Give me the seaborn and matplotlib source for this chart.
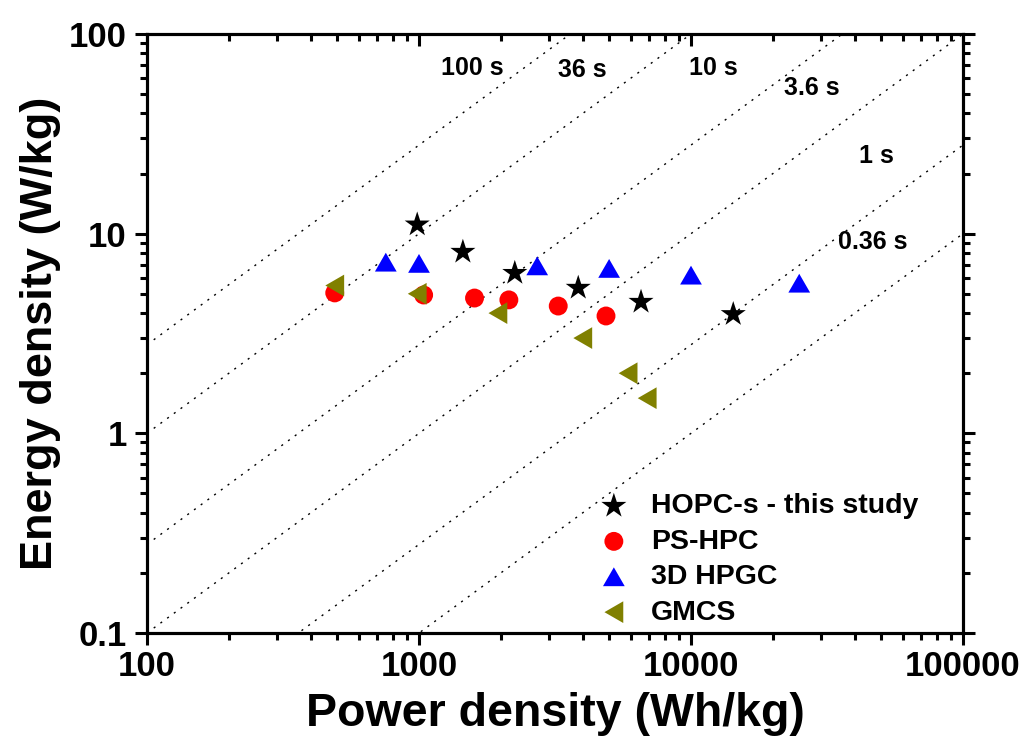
import numpy as np
import pandas as pd
import matplotlib
matplotlib.use("Agg")
import matplotlib.pyplot as plt
import seaborn as sns
from matplotlib.ticker import FixedLocator, FixedFormatter, LogLocator, NullFormatter

# ---- data ----
hopc_power = [985, 1450, 2250, 3850, 6550, 14300]
hopc_energy = [11.1, 8.1, 6.35, 5.35, 4.55, 3.95]

pshpc_power = [490, 1040, 1600, 2140, 3250, 4870]
pshpc_energy = [5.05, 4.93, 4.76, 4.66, 4.34, 3.87]

hpgc_power = [755, 1000, 2720, 5000, 10000, 25000]
hpgc_energy = [7.2, 7.1, 6.9, 6.7, 6.2, 5.65]

gmcs_power = [490, 985, 1950, 4000, 5870, 6900]
gmcs_energy = [5.5, 5.0, 4.0, 3.0, 2.0, 1.5]

series_names = ["HOPC-s - this study", "PS-HPC", "3D HPGC", "GMCS"]

# discharge-time guide lines (seconds) and their labels
times = [100, 36, 10, 3.6, 1, 0.36]
time_labels = ["100 s", "36 s", "10 s", "3.6 s", "1 s", "0.36 s"]
time_label_x = [1570, 3990, 12050, 27700, 48200, 46600]
time_label_y = [67.6, 66, 67.6, 53.7, 24.5, 9.09]

x_ticks = [100, 1000, 10000, 100000]
x_ticklabels = ["100", "1000", "10000", "100000"]
y_ticks = [0.1, 1, 10, 100]
y_ticklabels = ["0.1", "1", "10", "100"]

# ---- style ----
sns.set_style("ticks")
plt.rcParams['font.family'] = ['Liberation Sans', 'DejaVu Sans']
plt.rcParams['font.weight'] = 'bold'
plt.rcParams['axes.labelweight'] = 'bold'
for k in ['text.color', 'axes.labelcolor', 'xtick.color', 'ytick.color', 'axes.edgecolor']:
    plt.rcParams[k] = 'black'

W, H = 1031, 749
fig = plt.figure(figsize=(W / 100, H / 100), dpi=100)
L, R, T, B = 147, 963, 34, 633
ax = fig.add_axes([L / W, 1 - B / H, (R - L) / W, (B - T) / H])
ax.set_xscale('log')
ax.set_yscale('log')
ax.set_xlim(100, 1e5)
ax.set_ylim(0.1, 100)

# guide lines
for t in times:
    P = np.array([100.0, 1e5])
    ax.plot(P, P * t / 3600.0, color='black', lw=1.0, ls=(0, (1.5, 4.5)), zorder=1)
for lab, lx, ly in zip(time_labels, time_label_x, time_label_y):
    ax.text(lx, ly, lab, ha='center', va='center', fontsize=18, fontweight='bold',
            color='black', zorder=3)

tri_up = [(-1, -0.866), (1, -0.866), (0, 0.866)]
tri_left = [(0.866, -1), (0.866, 1), (-0.866, 0)]

df = pd.concat([
    pd.DataFrame({"P": hopc_power, "E": hopc_energy, "series": series_names[0]}),
    pd.DataFrame({"P": pshpc_power, "E": pshpc_energy, "series": series_names[1]}),
    pd.DataFrame({"P": hpgc_power, "E": hpgc_energy, "series": series_names[2]}),
    pd.DataFrame({"P": gmcs_power, "E": gmcs_energy, "series": series_names[3]}),
])

styles = {
    series_names[0]: dict(marker='*', color='black', s=360),
    series_names[1]: dict(marker='o', color='#ff0000', s=185),
    series_names[2]: dict(marker=tri_up, color='#0000ff', s=245),
    series_names[3]: dict(marker=tri_left, color='#808000', s=245),
}
for name in series_names:
    sub = df[df.series == name]
    st = styles[name]
    sns.scatterplot(data=sub, x="P", y="E", ax=ax, marker=st['marker'], color=st['color'],
                    s=st['s'], linewidth=0, edgecolor='none', label=name, zorder=4, legend=False)

ax.set_xlabel("Power density (Wh/kg)", fontsize=33.5, fontweight='bold', labelpad=6)
ax.set_ylabel("Energy density (W/kg)", fontsize=32.5, fontweight='bold', labelpad=6)

ax.xaxis.set_major_locator(FixedLocator(x_ticks))
ax.xaxis.set_major_formatter(FixedFormatter(x_ticklabels))
ax.yaxis.set_major_locator(FixedLocator(y_ticks))
ax.yaxis.set_major_formatter(FixedFormatter(y_ticklabels))
for a in (ax.xaxis, ax.yaxis):
    a.set_minor_locator(LogLocator(base=10, subs=np.arange(2, 10)))
    a.set_minor_formatter(NullFormatter())

ax.tick_params(which='major', direction='out', length=8.5, width=2.2, labelsize=25,
               top=False, right=False, colors='black')
ax.tick_params(which='minor', direction='out', length=5, width=2.2, top=False, right=False,
               colors='black')
ax.tick_params(axis='x', which='major', pad=4)
ax.tick_params(axis='y', which='major', pad=6)
for sp in ax.spines.values():
    sp.set_linewidth(2.2)
    sp.set_visible(True)
    sp.set_color('black')

# top axis: ticks inward; right axis: ticks outward
axt = ax.twiny()
axt.set_xscale('log')
axt.set_xlim(100, 1e5)
axt.xaxis.set_major_locator(FixedLocator(x_ticks))
axt.xaxis.set_minor_locator(LogLocator(base=10, subs=np.arange(2, 10)))
axt.xaxis.set_major_formatter(NullFormatter())
axt.xaxis.set_minor_formatter(NullFormatter())
axt.tick_params(which='major', direction='in', length=8.5, width=2.2, top=True, bottom=False,
                labeltop=False, colors='black')
axt.tick_params(which='minor', direction='in', length=5, width=2.2, top=True, bottom=False,
                colors='black')

axr = ax.twinx()
axr.set_yscale('log')
axr.set_ylim(0.1, 100)
axr.yaxis.set_major_locator(FixedLocator(y_ticks))
axr.yaxis.set_minor_locator(LogLocator(base=10, subs=np.arange(2, 10)))
axr.yaxis.set_major_formatter(NullFormatter())
axr.yaxis.set_minor_formatter(NullFormatter())
axr.tick_params(which='major', direction='out', length=8.5, width=2.2, right=True, left=False,
                labelright=False, colors='black')
axr.tick_params(which='minor', direction='out', length=5, width=2.2, right=True, left=False,
                colors='black')
for a in (axt, axr):
    for sp in a.spines.values():
        sp.set_linewidth(2.2)
        sp.set_color('black')

handles, labels = ax.get_legend_handles_labels()
leg = axr.legend(handles, labels, loc='upper left', bbox_to_anchor=(0.532, 0.252),
                 frameon=False, fontsize=20.5, handletextpad=0.55, labelspacing=0.33,
                 borderaxespad=0, scatterpoints=1, handlelength=1.5)
for t in leg.get_texts():
    t.set_fontweight('bold')
    t.set_color('black')

fig.savefig("out.png", dpi=100)
